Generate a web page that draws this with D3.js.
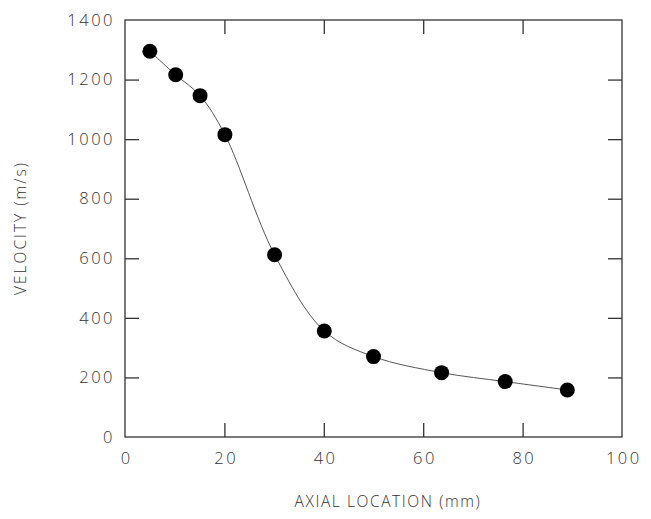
<!DOCTYPE html>
<html>
<head>
<meta charset="utf-8">
<script src="https://cdn.jsdelivr.net/npm/d3@7"></script>
<style>
  html, body { margin: 0; padding: 0; background: #fff; }
  svg { display: block; }
  text { font-family: "Open Sans", "Liberation Sans", Arial, sans-serif; font-weight: 300; fill: #333; }
</style>
</head>
<body>
<svg id="chart" width="651" height="519"></svg>
<script>
// Axial location (mm) and measured velocity (m/s)
const axialLocation = [5, 10.2, 15.1, 20.1, 30.1, 40.1, 50, 63.7, 76.5, 89];
const velocity = [1295, 1216, 1146, 1015, 612, 356, 270, 216, 186, 158];
const xTicks = [0, 20, 40, 60, 80, 100];
const yTicks = [0, 200, 400, 600, 800, 1000, 1200, 1400];

(function () {
  const svg = d3.select("#chart");
  const plotLeft = 125, plotRight = 622, plotTop = 20, plotBottom = 437;

  const x = d3.scaleLinear().domain([0, 100]).range([plotLeft, plotRight]);
  const y = d3.scaleLinear().domain([0, 1400]).range([plotBottom, plotTop]);

  const tickLen = 14;
  const axisColor = "#333";

  // frame
  svg.append("rect")
    .attr("x", plotLeft).attr("y", plotTop)
    .attr("width", plotRight - plotLeft).attr("height", plotBottom - plotTop)
    .attr("fill", "none").attr("stroke", axisColor).attr("stroke-width", 1.3);

  // inward ticks on all four sides
  function styleAxis(g) {
    g.select(".domain").remove();
    g.selectAll(".tick line").attr("stroke", axisColor).attr("stroke-width", 1.3);
    g.selectAll(".tick text")
      .style("font-size", "16.5px")
      .style("letter-spacing", "2.5px")
      .attr("fill", "#333");
  }

  svg.append("g")
    .attr("transform", `translate(0,${plotBottom})`)
    .call(d3.axisBottom(x).tickValues(xTicks).tickSizeInner(-tickLen).tickSizeOuter(0).tickPadding(15).tickFormat(d3.format("d")))
    .call(styleAxis)
    .selectAll(".tick text").attr("dx", "1.25px");

  svg.append("g")
    .attr("transform", `translate(0,${plotTop})`)
    .call(d3.axisTop(x).tickValues(xTicks).tickSizeInner(-tickLen).tickSizeOuter(0).tickFormat(""))
    .call(styleAxis);

  svg.append("g")
    .attr("transform", `translate(${plotLeft},0)`)
    .call(d3.axisLeft(y).tickValues(yTicks).tickSizeInner(-tickLen).tickSizeOuter(0).tickPadding(10).tickFormat(d3.format("d")))
    .call(styleAxis);

  svg.append("g")
    .attr("transform", `translate(${plotRight},0)`)
    .call(d3.axisRight(y).tickValues(yTicks).tickSizeInner(-tickLen).tickSizeOuter(0).tickFormat(""))
    .call(styleAxis);

  // drop tick marks that would sit on the frame corners
  svg.selectAll(".tick").filter(d => d === 0 || d === 100 || d === 1400)
    .select("line").remove();

  // smooth curve through the measurements
  const pts = axialLocation.map((d, i) => [d, velocity[i]]);
  const line = d3.line()
    .x(d => x(d[0])).y(d => y(d[1]))
    .curve(d3.curveCatmullRom.alpha(0.5));

  svg.append("path")
    .datum(pts)
    .attr("d", line)
    .attr("fill", "none")
    .attr("stroke", "#555")
    .attr("stroke-width", 1);

  svg.append("g").selectAll("circle")
    .data(pts)
    .join("circle")
    .attr("cx", d => x(d[0]))
    .attr("cy", d => y(d[1]))
    .attr("r", 7.5)
    .attr("fill", "#000");

  // axis titles
  svg.append("text")
    .attr("x", 388).attr("y", 507)
    .attr("text-anchor", "middle")
    .style("font-size", "15.5px")
    .style("letter-spacing", "1.6px")
    .text("AXIAL LOCATION (mm)");

  svg.append("text")
    .attr("transform", `translate(26,228) rotate(-90)`)
    .attr("text-anchor", "middle")
    .style("font-size", "15.5px")
    .style("letter-spacing", "2px")
    .text("VELOCITY (m/s)");
})();
</script>
</body>
</html>
